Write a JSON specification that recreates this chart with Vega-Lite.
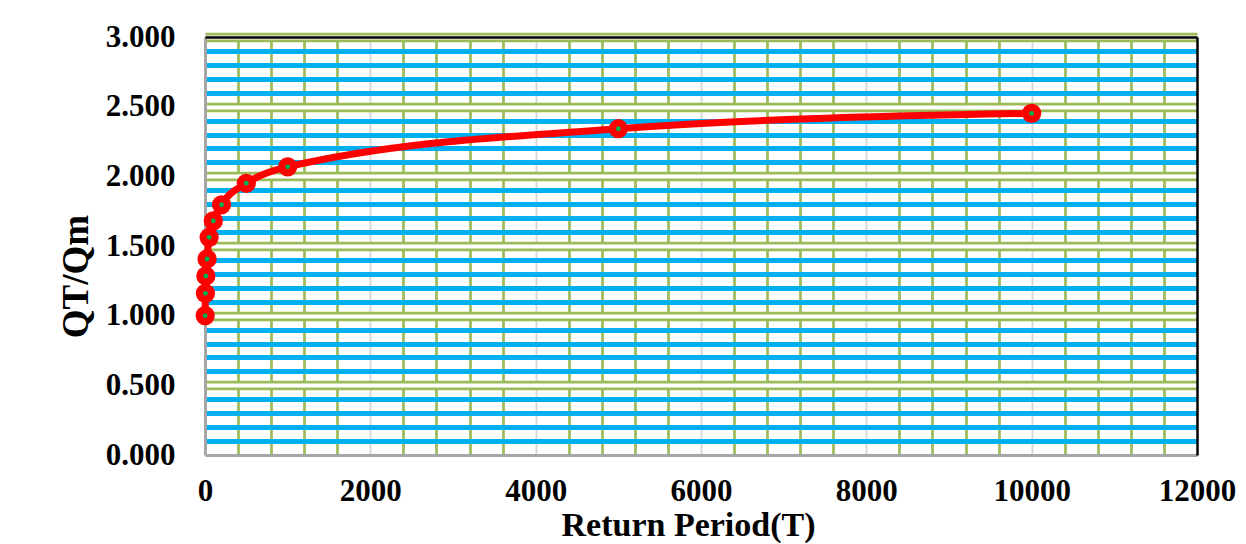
{
  "$schema": "https://vega.github.io/schema/vega-lite/v6.json",
  "autosize": {"type": "none"},
  "width": 992,
  "height": 418,
  "padding": {"left": 205, "top": 37, "right": 49, "bottom": 89},
  "background": "white",
  "config": {
    "view": {"stroke": null},
    "axis": {"labelFont": "Liberation Serif", "titleFont": "Liberation Serif", "labelFontWeight": "bold", "titleFontWeight": "bold", "labelColor": "#000000", "titleColor": "#000000"}
  },
  "data": {
    "values": [
      {"T": 2, "Q": 1.0},
      {"T": 5, "Q": 1.16},
      {"T": 10, "Q": 1.285},
      {"T": 25, "Q": 1.407},
      {"T": 50, "Q": 1.562},
      {"T": 100, "Q": 1.68},
      {"T": 200, "Q": 1.796},
      {"T": 500, "Q": 1.95},
      {"T": 1000, "Q": 2.068},
      {"T": 5000, "Q": 2.342},
      {"T": 10000, "Q": 2.452}
    ]
  },
  "layer": [
    {
      "mark": {"type": "point", "opacity": 0},
      "encoding": {
        "x": {"field": "T", "type": "quantitative", "scale": {"domain": [0, 12000], "nice": false}, "axis": {"orient": "bottom", "grid": true, "gridColor": "#9BBB59", "gridWidth": 2.7, "values": [400, 800, 1200, 1600, 2400, 2800, 3200, 3600, 4400, 4800, 5200, 5600, 6400, 6800, 7200, 7600, 8400, 8800, 9200, 9600, 10400, 10800, 11200, 11600], "labels": false, "ticks": false, "domain": false, "title": null}},
        "y": {"field": "Q", "type": "quantitative", "scale": {"domain": [0, 3], "nice": false}, "axis": {"orient": "left", "grid": true, "gridColor": "#00B0F0", "gridWidth": 5, "values": [0.1, 0.2, 0.3, 0.4, 0.6, 0.7, 0.8, 0.9, 1.1, 1.2, 1.3, 1.4, 1.6, 1.7, 1.8, 1.9, 2.1, 2.2, 2.3, 2.4, 2.6, 2.7, 2.8, 2.9], "labels": false, "ticks": false, "domain": false, "title": null}}
      }
    },
    {
      "mark": {"type": "point", "opacity": 0},
      "encoding": {
        "x": {"field": "T", "type": "quantitative", "scale": {"domain": [0, 12000], "nice": false}, "axis": {"orient": "bottom", "grid": true, "gridColor": "#D9D9D9", "gridWidth": 2, "values": [2000, 4000, 6000, 8000, 10000], "labels": false, "ticks": false, "domain": false, "title": null}},
        "y": {"field": "Q", "type": "quantitative", "scale": {"domain": [0, 3], "nice": false}, "axis": {"orient": "left", "grid": true, "gridColor": "#9BBB59", "gridWidth": 9.5, "values": [0.5, 1, 1.5, 2, 2.5, 3], "labels": false, "ticks": false, "domain": false, "title": null}}
      }
    },
    {
      "mark": {"type": "point", "opacity": 0},
      "encoding": {
        "x": {"field": "T", "type": "quantitative", "scale": {"domain": [0, 12000], "nice": false}, "axis": {"orient": "top", "grid": false, "labels": false, "ticks": false, "domain": true, "domainColor": "#000000", "domainWidth": 2.5, "title": null, "zindex": 1}},
        "y": {"field": "Q", "type": "quantitative", "scale": {"domain": [0, 3], "nice": false}, "axis": {"orient": "left", "grid": true, "gridColor": "#FFFFFF", "gridWidth": 4, "values": [0.5, 1, 1.5, 2, 2.5, 3], "labels": false, "ticks": false, "domain": false, "title": null}}
      }
    },
    {
      "mark": {"type": "point", "opacity": 0},
      "encoding": {
        "x": {"field": "T", "type": "quantitative", "scale": {"domain": [0, 12000], "nice": false}, "axis": null},
        "y": {"field": "Q", "type": "quantitative", "scale": {"domain": [0, 3], "nice": false}, "axis": {"orient": "right", "grid": false, "labels": false, "ticks": false, "domain": true, "domainColor": "#000000", "domainWidth": 2.5, "title": null, "zindex": 1}}
      }
    },
    {
      "mark": {"type": "line", "color": "#FF0000", "strokeWidth": 7, "interpolate": "monotone"},
      "encoding": {
        "x": {"field": "T", "type": "quantitative", "scale": {"domain": [0, 12000], "nice": false}, "axis": {"orient": "bottom", "grid": false, "values": [0, 2000, 4000, 6000, 8000, 10000, 12000], "format": "d", "labelFontSize": 31, "labelFlush": false, "labelPadding": 21, "ticks": false, "domain": true, "domainColor": "#A6A6A6", "domainWidth": 3, "title": "Return Period(T)", "titleFontSize": 34, "titleX": 483, "titleY": 80, "titleBaseline": "alphabetic", "titleAlign": "center"}},
        "y": {"field": "Q", "type": "quantitative", "scale": {"domain": [0, 3], "nice": false}, "axis": {"orient": "left", "grid": false, "values": [0, 0.5, 1, 1.5, 2, 2.5, 3], "format": ".3f", "labelFontSize": 31, "labelPadding": 30, "ticks": false, "domain": true, "domainColor": "#A6A6A6", "domainWidth": 3, "title": "QT/Qm", "titleFontSize": 37, "titleX": -129, "titleY": 239, "titleBaseline": "middle", "titleAlign": "center", "titleAngle": -90}}
      }
    },
    {
      "mark": {"type": "point", "filled": true, "color": "#FF0000", "opacity": 1, "size": 370, "shape": "circle"},
      "encoding": {
        "x": {"field": "T", "type": "quantitative", "scale": {"domain": [0, 12000], "nice": false}, "axis": null},
        "y": {"field": "Q", "type": "quantitative", "scale": {"domain": [0, 3], "nice": false}, "axis": null}
      }
    },
    {
      "mark": {"type": "point", "filled": true, "color": "#00B050", "opacity": 1, "size": 24, "shape": "circle"},
      "encoding": {
        "x": {"field": "T", "type": "quantitative", "scale": {"domain": [0, 12000], "nice": false}, "axis": null},
        "y": {"field": "Q", "type": "quantitative", "scale": {"domain": [0, 3], "nice": false}, "axis": null}
      }
    }
  ],
  "resolve": {"axis": {"x": "independent", "y": "independent"}}
}
